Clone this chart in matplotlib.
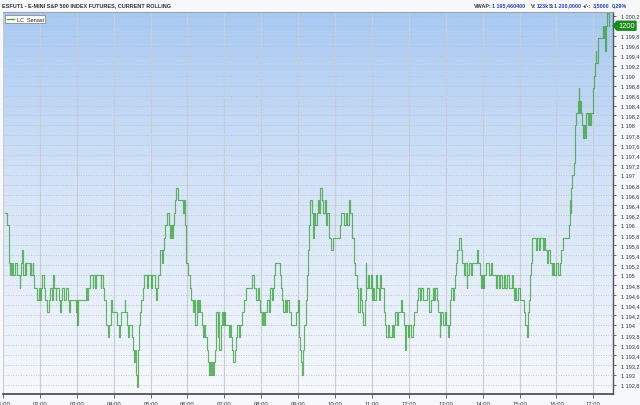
import numpy as np
import matplotlib
matplotlib.use("Agg")
import matplotlib.pyplot as plt
from matplotlib.patches import Polygon, Rectangle
from matplotlib.lines import Line2D
import matplotlib.transforms as mtrans

# minutes since midnight, traded price (tick size 0.25)
minutes = [
    63, 67, 69, 70, 71, 72, 73, 74, 76, 80, 83, 87, 88, 90, 91, 92, 93, 95, 97, 98,
    104, 105, 106, 108, 109, 110, 115, 118, 120, 121, 124, 126, 129, 132, 134, 136, 140, 142, 143, 146,
    147, 151, 152, 154, 156, 160, 163, 166, 167, 169, 178, 180, 181, 182, 195, 196, 198, 202, 206, 207,
    209, 211, 219, 220, 222, 225, 227, 228, 230, 232, 236, 237, 246, 248, 250, 252, 258, 259, 262, 264,
    265, 270, 272, 273, 275, 277, 278, 279, 281, 282, 285, 287, 289, 294, 295, 300, 302, 307, 309, 310,
    312, 315, 316, 318, 320, 322, 324, 327, 330, 331, 333, 335, 336, 338, 340, 341, 345, 353, 354, 356,
    357, 361, 364, 366, 369, 371, 372, 373, 375, 377, 379, 380, 383, 385, 387, 389, 391, 393, 395, 397,
    398, 400, 401, 403, 404, 406, 407, 409, 410, 412, 414, 416, 418, 419, 421, 427, 429, 431, 432, 434,
    437, 439, 441, 443, 445, 449, 452, 455, 465, 468, 472, 475, 476, 478, 481, 483, 484, 486, 490, 492,
    494, 495, 497, 499, 501, 502, 510, 512, 514, 516, 518, 520, 522, 525, 528, 536, 539, 541, 543, 545,
    546, 548, 549, 552, 554, 556, 558, 560, 562, 564, 566, 568, 570, 572, 574, 576, 578, 580, 583, 585,
    587, 590, 594, 596, 608, 610, 615, 617, 620, 622, 625, 628, 631, 633, 636, 638, 640, 642, 644, 646,
    648, 650, 651, 654, 656, 658, 660, 662, 664, 667, 669, 671, 673, 675, 679, 681, 683, 686, 688, 692,
    694, 696, 698, 701, 703, 707, 709, 712, 714, 716, 719, 721, 724, 727, 729, 733, 735, 738, 739, 743,
    750, 752, 756, 759, 761, 763, 765, 767, 770, 771, 773, 776, 778, 780, 783, 785, 787, 789, 791, 793,
    795, 796, 799, 802, 804, 806, 809, 811, 814, 815, 818, 821, 823, 831, 833, 835, 837, 839, 841, 843,
    846, 850, 854, 856, 862, 864, 867, 869, 872, 875, 877, 880, 883, 887, 889, 891, 893, 895, 898, 900,
    907, 909, 912, 914, 916, 917, 919, 921, 926, 928, 931, 933, 938, 940, 942, 944, 946, 949, 952, 954,
    956, 959, 962, 965, 968, 971, 981, 982, 983, 984, 986, 988, 990, 991, 992, 995, 996, 997, 998, 1000,
    1001, 1003, 1005, 1006, 1008, 1011, 1013, 1015, 1017, 1019, 1021, 1023, 1024, 1025, 1027, 1035, 1036, 1037, 1039, 1041,
    1043, 1045,
]
prices = [
    1196.25, 1196.0, 1195.5, 1195.25, 1195.0, 1195.25, 1195.0, 1195.25, 1195.0, 1195.25, 1195.0, 1194.75, 1195.0, 1195.25, 1195.5, 1195.25, 1195.0, 1195.25, 1195.0, 1195.25,
    1195.0, 1195.25, 1195.0, 1195.25, 1195.0, 1194.75, 1194.5, 1194.75, 1194.5, 1194.75, 1195.0, 1194.75, 1194.5, 1194.25, 1194.5, 1194.75, 1194.5, 1195.0, 1194.75, 1194.5,
    1194.75, 1194.5, 1194.25, 1194.5, 1194.75, 1194.5, 1194.75, 1194.5, 1194.25, 1194.5, 1194.25, 1194.5, 1194.0, 1194.5, 1194.75, 1194.5, 1194.75, 1195.0, 1194.75, 1195.0,
    1194.75, 1195.0, 1194.75, 1195.0, 1194.75, 1194.5, 1194.25, 1194.0, 1193.75, 1194.0, 1194.5, 1194.25, 1194.0, 1193.75, 1194.0, 1194.25, 1194.5, 1194.25, 1194.0, 1193.75,
    1194.0, 1193.75, 1193.5, 1193.25, 1193.5, 1193.0, 1192.75, 1193.5, 1194.0, 1194.25, 1194.5, 1194.75, 1195.0, 1194.75, 1195.0, 1194.75, 1195.0, 1194.75, 1194.5, 1194.75,
    1195.0, 1195.25, 1195.5, 1195.25, 1195.5, 1195.75, 1196.0, 1196.25, 1196.0, 1195.75, 1196.0, 1195.75, 1196.0, 1196.25, 1196.5, 1196.75, 1196.5, 1196.25, 1196.5, 1196.0,
    1195.25, 1195.0, 1194.75, 1194.5, 1194.25, 1194.5, 1194.25, 1194.0, 1194.5, 1194.25, 1194.5, 1194.25, 1194.0, 1193.75, 1194.0, 1193.75, 1193.5, 1193.25, 1193.0, 1193.25,
    1193.0, 1193.25, 1193.0, 1193.25, 1193.5, 1194.0, 1194.25, 1193.75, 1194.25, 1193.5, 1194.0, 1194.25, 1194.0, 1194.25, 1194.0, 1193.75, 1194.0, 1193.75, 1193.5, 1193.25,
    1193.5, 1193.75, 1194.0, 1193.75, 1194.0, 1194.25, 1194.5, 1194.75, 1195.0, 1194.75, 1194.5, 1194.75, 1194.5, 1194.25, 1194.0, 1194.25, 1194.0, 1194.25, 1194.5, 1194.25,
    1194.5, 1194.75, 1194.5, 1194.75, 1195.0, 1195.25, 1195.0, 1194.75, 1194.5, 1194.25, 1194.5, 1194.25, 1194.5, 1194.25, 1194.0, 1194.25, 1194.5, 1193.75, 1193.5, 1193.25,
    1193.0, 1193.5, 1194.0, 1194.5, 1195.0, 1195.5, 1196.0, 1196.5, 1196.25, 1195.75, 1196.25, 1196.0, 1196.25, 1196.5, 1196.25, 1196.75, 1196.5, 1196.25, 1196.5, 1196.0,
    1196.25, 1195.75, 1195.5, 1195.75, 1196.0, 1196.25, 1196.0, 1196.25, 1196.0, 1196.5, 1196.25, 1195.75, 1195.25, 1195.0, 1194.75, 1194.25, 1194.75, 1194.5, 1194.25, 1194.0,
    1194.5, 1195.25, 1194.75, 1195.0, 1194.75, 1195.0, 1194.5, 1194.75, 1194.5, 1195.0, 1194.75, 1194.5, 1195.0, 1194.75, 1194.25, 1194.0, 1193.75, 1194.0, 1193.75, 1194.0,
    1193.75, 1194.0, 1194.25, 1194.0, 1194.25, 1194.5, 1194.25, 1194.0, 1193.5, 1194.0, 1193.75, 1194.0, 1193.75, 1194.0, 1194.25, 1194.5, 1194.75, 1194.5, 1194.75, 1194.5,
    1194.75, 1194.25, 1194.5, 1194.75, 1194.5, 1194.75, 1194.5, 1194.25, 1193.75, 1194.0, 1194.25, 1194.0, 1194.25, 1194.0, 1193.75, 1194.0, 1194.5, 1194.75, 1194.5, 1194.75,
    1195.0, 1195.25, 1195.5, 1195.75, 1195.5, 1195.25, 1195.0, 1195.25, 1194.75, 1195.0, 1195.25, 1195.0, 1195.25, 1195.5, 1195.25, 1195.0, 1194.75, 1195.0, 1194.75, 1195.0,
    1195.25, 1195.0, 1195.25, 1195.0, 1194.75, 1195.0, 1194.75, 1195.0, 1194.75, 1195.0, 1194.75, 1195.0, 1194.75, 1195.0, 1194.75, 1194.5, 1194.75, 1194.5, 1194.75, 1194.5,
    1194.25, 1194.0, 1193.75, 1194.25, 1194.5, 1195.0, 1195.25, 1195.75, 1195.5, 1195.75, 1195.5, 1195.75, 1195.5, 1195.75, 1195.5, 1195.25, 1195.5, 1195.25, 1195.0, 1195.25,
    1195.0, 1195.25, 1195.0, 1195.25, 1195.5, 1195.75, 1196.0, 1196.5, 1196.25, 1196.75, 1197.0, 1197.25, 1197.5, 1198.0, 1198.25, 1198.5, 1198.75, 1198.25, 1198.5, 1198.25,
    1198.0, 1197.75, 1198.0, 1197.75, 1198.25, 1198.0, 1198.25, 1198.0, 1198.25, 1198.75, 1199.0, 1199.25, 1199.5, 1199.25, 1199.75, 1200.0, 1199.75, 1200.0, 1199.5, 1200.0,
    1200.25, 1200.0,
]
hour_labels = ["01:00", "02:00", "03:00", "04:00", "05:00", "06:00", "07:00", "08:00", "09:00",
               "10:00", "11:00", "12:00", "13:00", "14:00", "15:00", "16:00", "17:00"]
title = "ESFUT1 - E-MINI S&P 500 INDEX FUTURES, CURRENT ROLLING"
stats = [("VWAP:", "1 195,460400"), ("V:", "123k"), ("S:", "1 200,0000"), ("+/-:", "3,5000"), ("", "0,29%")]
last_price = 1200.0

plt.rcParams['font.family'] = ['Liberation Sans', 'DejaVu Sans']

W, H = 640, 406
fig = plt.figure(figsize=(W / 100, H / 100), dpi=100, facecolor='#f6f8fb')
ax = fig.add_axes([3 / W, 11 / H, 610 / W, 382 / H])

xmin, xmax = 61, 1052
ymin, ymax = 1192.615, 1200.275

# background gradient, light blue at top fading to almost white
stops = np.array([[0.0, 0.66, 0.79, 0.95], [0.45, 0.83, 0.89, 0.97], [1.0, 0.965, 0.975, 0.99]])
t = np.linspace(0, 1, 256)
grad = np.stack([np.interp(t, stops[:, 0], stops[:, k]) for k in (1, 2, 3)], axis=1)
ax.imshow(grad[:, None, :], extent=[xmin, xmax, ymin, ymax], aspect='auto', zorder=0,
          interpolation='bilinear')

ax.set_xlim(xmin, xmax)
ax.set_ylim(ymin, ymax)

xt = [60 * (i + 1) for i in range(len(hour_labels))]
ax.set_xticks(xt)
ax.set_xticklabels(hour_labels)

yt = np.round(np.arange(1192.8, 1200.21, 0.2), 1)


def fmt(v):
    if abs(v - round(v)) < 1e-6:
        s = f"{int(round(v)):,}"
    else:
        s = f"{v:,.1f}"
    return s.replace(",", " ").replace(".", ",")


ax.set_yticks(yt)
ax.set_yticklabels([("" if abs(v - last_price) < 1e-6 else fmt(v)) for v in yt])
ax.yaxis.tick_right()

for v in yt:
    ax.axhline(v, color='#aeb8c4', lw=0.6, ls=(0, (1, 2)), zorder=1)
for x in xt:
    ax.axvline(x, color='#c9ccd0', lw=0.8, zorder=1)

ax.step(minutes, prices, where='post', color='#33a033', lw=0.85, alpha=0.75, zorder=3)

ax.tick_params(axis='x', length=3, width=0.6, color='#555555', labelsize=4.2, pad=2,
               labelcolor='#333333')
ax.tick_params(axis='y', length=2.5, width=0.6, color='#555555', labelsize=4.0, pad=3,
               labelcolor='#333333')
ax.spines['left'].set_visible(False)
ax.spines['top'].set_color('#a0a4a8')
ax.spines['top'].set_linewidth(0.8)
ax.spines['right'].set_color('#555555')
ax.spines['right'].set_linewidth(1.0)
ax.spines['bottom'].set_color('#444444')
ax.spines['bottom'].set_linewidth(1.2)

# last price marker on the right axis
tr = mtrans.blended_transform_factory(ax.transAxes, ax.transData)
bw = 23 / 610
bh = 0.09
poly = Polygon([[1.0, last_price], [1.0 + 4 / 610, last_price + bh], [1.0 + bw, last_price + bh],
                [1.0 + bw, last_price - bh], [1.0 + 4 / 610, last_price - bh]],
               closed=True, transform=tr, clip_on=False, facecolor='#1d8a1d',
               edgecolor='#1d8a1d', zorder=5)
ax.add_patch(poly)
ax.text(1.0 + 13.5 / 610, last_price, "1200", transform=tr, ha='center', va='center',
        fontsize=5.4, color='white', clip_on=False, zorder=6)

# legend box
lb = Rectangle((2 / 610, 1 - 11 / 382), 40 / 610, 8 / 382, transform=ax.transAxes,
               facecolor='white', edgecolor='#8a8a8a', lw=0.6, zorder=6)
ax.add_patch(lb)
ax.add_line(Line2D([4 / 610, 11 / 610], [1 - 7 / 382, 1 - 7 / 382], transform=ax.transAxes,
                   color='#33a033', lw=0.9, zorder=7))
ax.text(14 / 610, 1 - 7 / 382, "LC  Senast", transform=ax.transAxes, ha='left', va='center',
        fontsize=4.0, color='#222222', zorder=7)

# header texts
fig.text(2 / W, 1 - 6 / H, title, ha='left', va='center', fontsize=4.0, fontweight='bold',
         color='#333333')
x0 = [474, 531, 549, 583, 612]
x1 = [492, 537, 554, 593, 612]
for (lab, val), a, b in zip(stats, x0, x1):
    if lab:
        fig.text(a / W, 1 - 6 / H, lab, ha='left', va='center', fontsize=3.9,
                 fontweight='bold', color='#333333')
    fig.text(b / W, 1 - 6 / H, val, ha='left', va='center', fontsize=3.9,
             fontweight='bold', color='#2a3fc0')

fig.savefig("out.png", dpi=100, facecolor=fig.get_facecolor())
